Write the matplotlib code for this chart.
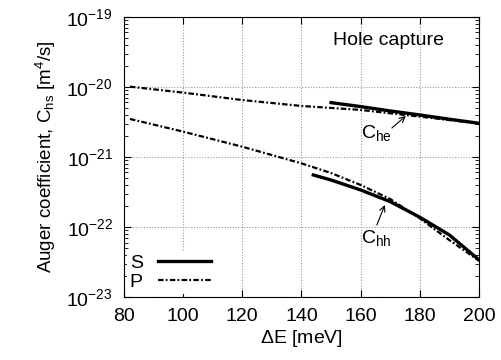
import numpy as np
import matplotlib.pyplot as plt
from matplotlib.ticker import NullFormatter

plt.rcParams['font.family'] = ['Liberation Sans', 'DejaVu Sans']
plt.rcParams['mathtext.fontset'] = 'custom'
plt.rcParams['mathtext.rm'] = 'Liberation Sans'
plt.rcParams['mathtext.it'] = 'Liberation Sans'

# C_he curves
he_p_x = [82, 100, 120, 140, 160, 180, 200]
he_p_y = [1.01e-20, 8.3e-21, 6.5e-21, 5.35e-21, 4.7e-21, 3.77e-21, 3.0e-21]
he_s_x = [150, 160, 170, 180, 190, 200]
he_s_y = [5.97e-21, 5.24e-21, 4.54e-21, 3.98e-21, 3.46e-21, 3.03e-21]

# C_hh curves
hh_p_x = [82, 100, 120, 140, 150, 160, 170, 180, 190, 200]
hh_p_y = [3.49e-21, 2.30e-21, 1.40e-21, 8.1e-22, 5.9e-22, 3.98e-22, 2.51e-22, 1.33e-22, 6.5e-23, 3.3e-23]
hh_s_x = [144, 150, 160, 170, 180, 190, 200]
hh_s_y = [5.53e-22, 4.69e-22, 3.38e-22, 2.30e-22, 1.38e-22, 7.7e-23, 3.4e-23]

x_ticks = [80, 100, 120, 140, 160, 180, 200]
y_exps = [-23, -22, -21, -20, -19]

fig = plt.figure(figsize=(5.02, 3.6), dpi=100)
ax = fig.add_axes([0.247, 0.175, 0.707, 0.778])

dash = (2.5, 1, 0.8, 1)
ax.plot(he_s_x, he_s_y, color='black', lw=2.4, label='S')
ax.plot(he_p_x, he_p_y, color='black', lw=1.6, dashes=dash, label='P')
ax.plot(hh_s_x, hh_s_y, color='black', lw=2.4)
ax.plot(hh_p_x, hh_p_y, color='black', lw=1.6, dashes=dash)

ax.set_yscale('log')
ax.set_xlim(80, 200)
ax.set_ylim(1e-23, 1e-19)
ax.set_xticks(x_ticks)
ax.set_yticks([10.0**e for e in y_exps])
ax.set_yticklabels([r'10$^{%d}$' % e for e in y_exps])
minor = [m * 10.0**e for e in y_exps[:-1] for m in range(2, 10)]
ax.set_yticks(minor, minor=True)
ax.yaxis.set_minor_formatter(NullFormatter())
ax.tick_params(which='both', direction='in', top=True, right=True, labelsize=14)
ax.tick_params(which='major', length=5, pad=8)
ax.tick_params(which='minor', length=3)
ax.grid(True, which='major', color='#999999', linestyle=(0, (1, 1.5)), lw=0.8)

ax.set_xlabel(r'$\Delta$E [meV]', fontsize=14, labelpad=2)
ax.set_ylabel(r'Auger coefficient, C$_{\rm hs}$ [m$^4$/s]', fontsize=13.5, labelpad=6)

ax.text(169.5, 10**-19.33, 'Hole capture', fontsize=14, ha='center', va='center')

ax.text(165.2, 10**-20.66, r'C$_{\rm he}$', fontsize=14, ha='center', va='center')
ax.annotate('', xy=(175.3, 10**-20.414), xytext=(170.6, 10**-20.586),
            arrowprops=dict(arrowstyle='->', lw=0.8, color='black', shrinkA=0, shrinkB=0))
ax.text(165.4, 10**-22.16, r'C$_{\rm hh}$', fontsize=14, ha='center', va='center')
ax.annotate('', xy=(168.2, 10**-21.686), xytext=(165.5, 10**-21.971),
            arrowprops=dict(arrowstyle='->', lw=0.8, color='black', shrinkA=0, shrinkB=0))

leg = ax.legend(loc='lower left', markerfirst=False,
                fontsize=14, handlelength=2.7, frameon=True, framealpha=1,
                edgecolor='none', facecolor='white', borderaxespad=0.15, borderpad=0.15,
                labelspacing=0.1, handletextpad=0.8, fancybox=False)

fig.savefig('out.png', dpi=100)
